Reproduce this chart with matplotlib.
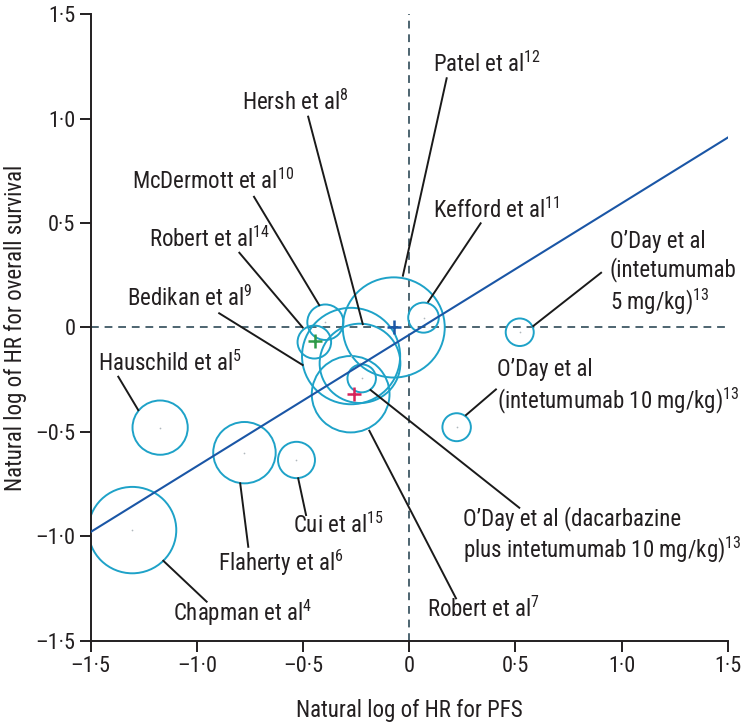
import numpy as np
import matplotlib
matplotlib.use('Agg')
import matplotlib.pyplot as plt
from matplotlib import font_manager
from matplotlib.patches import Circle

# шрифт: узкий, если есть
names = {f.name for f in font_manager.fontManager.ttflist}
FONT = 'DejaVu Sans'
for cand in ['Liberation Sans Narrow', 'Roboto Condensed', 'Open Sans Condensed', 'Lato', 'Noto Sans']:
    if cand in names:
        FONT = cand
        break
plt.rcParams['font.family'] = [FONT, 'DejaVu Sans']
plt.rcParams['mathtext.fontset'] = 'custom'
plt.rcParams['mathtext.rm'] = FONT
plt.rcParams['mathtext.it'] = FONT
plt.rcParams['mathtext.default'] = 'regular'

# ДАННЫЕ: центры кругов (ln HR PFS, ln HR OS) и радиусы
studies = ['Patel', 'Hersh', 'McDermott', 'Robert14', 'Bedikan', 'Kefford',
           'ODay_dac', 'Robert7', 'ODay5', 'ODay10', 'Hauschild', 'Flaherty',
           'Cui', 'Chapman']
ln_pfs = [-0.073, -0.232, -0.395, -0.447, -0.274, 0.067,
          -0.224, -0.276, 0.520, 0.223, -1.173, -0.776,
          -0.531, -1.304]
ln_os = [0.000, -0.172, 0.025, -0.070, -0.137, 0.047,
         -0.244, -0.320, -0.023, -0.478, -0.480, -0.600,
         -0.635, -0.971]
radius = [0.240, 0.190, 0.085, 0.079, 0.231, 0.072,
          0.067, 0.183, 0.066, 0.067, 0.130, 0.147,
          0.087, 0.207]

# подписи: текст, позиция текста, начало и конец выноски
labels = [
    ('Patel et al$^{12}$', 0.114, 1.262, (0.176, 1.194), (-0.030, 0.248)),
    ('Hersh et al$^{8}$', -0.789, 1.079, (-0.476, 1.010), (-0.219, 0.016)),
    ('McDermott et al$^{10}$', -1.307, 0.698, (-0.731, 0.626), (-0.424, 0.107)),
    ('Robert et al$^{14}$', -1.224, 0.424, (-0.800, 0.358), (-0.502, 0.000)),
    ('Bedikan et al$^{9}$', -1.331, 0.139, (-0.895, 0.068), (-0.502, -0.180)),
    ('Hauschild et al$^{5}$', -1.464, -0.172, (-1.370, -0.236), (-1.276, -0.396)),
    ('Kefford et al$^{11}$', 0.113, 0.563, (0.336, 0.499), (0.089, 0.123)),
    ('O\u2019Day et al\n(intetumumab\n5 mg/kg)$^{13}$', 0.945, 0.259, (0.903, 0.262), (0.584, 0.007)),
    ('O\u2019Day et al\n(intetumumab 10 mg/kg)$^{13}$', 0.411, -0.284, (0.408, -0.297), (0.267, -0.420)),
    ('O\u2019Day et al (dacarbazine\nplus intetumumab 10 mg/kg)$^{13}$', 0.254, -0.997, (0.518, -0.864), (-0.182, -0.300)),
    ('Robert et al$^{7}$', 0.085, -1.352, (0.220, -1.298), (-0.188, -0.495)),
    ('Cui et al$^{15}$', -0.549, -0.947, (-0.486, -0.899), (-0.523, -0.723)),
    ('Flaherty et al$^{6}$', -0.899, -1.130, (-0.758, -1.051), (-0.796, -0.747)),
    ('Chapman et al$^{4}$', -1.111, -1.366, (-0.954, -1.314), (-1.158, -1.118)),
]

# кресты (центры выделенных исследований)
cross_x = [-0.071, -0.445, -0.260]
cross_y = [0.000, -0.066, -0.320]
cross_c = ['#1a56a6', '#2e9a47', '#d6245a']

# линия регрессии
reg_x = [-1.5, 1.5]
reg_y = [-0.98, 0.91]

ticks = [-1.5, -1.0, -0.5, 0, 0.5, 1.0, 1.5]
tick_labels = ['\u20131\u00b75', '\u20131\u00b70', '\u20130\u00b75', '0', '0\u00b75', '1\u00b70', '1\u00b75']

CIRC = '#1ea2c8'
FS = 16.5

fig = plt.figure(figsize=(7.5, 7.23), dpi=100)
ax = fig.add_axes([0.1209, 0.1141, 0.8496, 0.866])
ax.set_xlim(-1.5, 1.5)
ax.set_ylim(-1.5, 1.5)

ax.plot([-1.5, 1.5], [0, 0], ls=(0, (4, 3)), color='#4d6470', lw=1.4, zorder=1)
ax.plot([0, 0], [-1.5, 1.5], ls=(0, (4, 3)), color='#4d6470', lw=1.4, zorder=1)
ax.plot(reg_x, reg_y, color='#1a56a6', lw=1.5, zorder=3)

for x, y, r in zip(ln_pfs, ln_os, radius):
    ax.add_patch(Circle((x, y), r, fill=False, ec=CIRC, lw=1.4, zorder=2))
ax.scatter(ln_pfs, ln_os, s=1.5, color='#b0b8bc', zorder=2, linewidths=0)

for x, y, c in zip(cross_x, cross_y, cross_c):
    ax.plot(x, y, marker='+', ms=10, mew=1.8, color=c, zorder=4)

for txt, tx, ty, p0, p1 in labels:
    ax.plot([p0[0], p1[0]], [p0[1], p1[1]], color='#1a1a1a', lw=1.4, zorder=4)
    ax.text(tx, ty, txt, fontsize=FS, ha='left', va='center', color='#231f20',
            linespacing=1.2, zorder=5)

for s in ['top', 'right']:
    ax.spines[s].set_visible(False)
for s in ['left', 'bottom']:
    ax.spines[s].set_linewidth(1.4)
    ax.spines[s].set_color('#231f20')
ax.set_xticks(ticks)
ax.set_xticklabels(tick_labels)
ax.set_yticks(ticks)
ax.set_yticklabels(tick_labels)
ax.tick_params(length=8, width=1.4, labelsize=16, colors='#231f20', pad=3)
ax.set_xlabel('Natural log of HR for PFS', fontsize=FS, color='#231f20', labelpad=16)
ax.set_ylabel('Natural log of HR for overall survival', fontsize=FS, color='#231f20', labelpad=6)

fig.savefig('out.png', dpi=100)
